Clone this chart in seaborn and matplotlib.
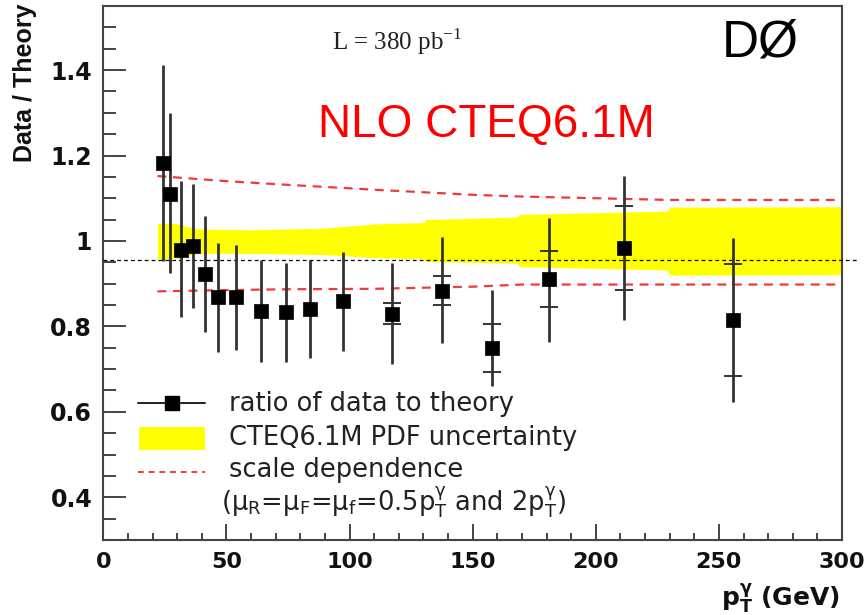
import numpy as np
import pandas as pd
import matplotlib
matplotlib.use("Agg")
import matplotlib.pyplot as plt
from matplotlib.lines import Line2D
from matplotlib.patches import Rectangle
import seaborn as sns

# Photon pT bin centres (GeV) and measured data/theory ratio
pt = [24.1, 27.1, 31.6, 36.3, 41.1, 46.7, 53.7, 64.0, 74.1, 84.0, 97.3,
      117.3, 137.7, 157.8, 181.0, 211.3, 255.9]
ratio = [1.182, 1.110, 0.980, 0.989, 0.923, 0.868, 0.868, 0.837, 0.833, 0.840, 0.859,
         0.830, 0.884, 0.750, 0.911, 0.984, 0.815]
# total uncertainty (up / down)
err_up = [0.230, 0.189, 0.161, 0.145, 0.136, 0.128, 0.123, 0.119, 0.116, 0.115, 0.114,
          0.119, 0.125, 0.136, 0.143, 0.167, 0.193]
err_dn = [0.230, 0.186, 0.157, 0.147, 0.136, 0.128, 0.124, 0.120, 0.116, 0.115, 0.117,
          0.119, 0.124, 0.090, 0.148, 0.170, 0.193]
# statistical part (only visible outside the marker at high pT)
err_stat = [np.nan] * 11 + [0.024, 0.035, 0.056, 0.065, 0.098, 0.132]

# CTEQ6.1M PDF uncertainty band
pdf_pt = [22, 30, 38, 60, 90, 110, 130, 131, 168, 169, 229, 230, 300]
pdf_hi = [1.042, 1.040, 1.028, 1.026, 1.030, 1.040, 1.043, 1.050, 1.056, 1.062, 1.070, 1.079, 1.080]
pdf_lo = [0.958, 0.960, 0.971, 0.971, 0.968, 0.961, 0.958, 0.952, 0.948, 0.940, 0.932, 0.920, 0.921]

# scale dependence (0.5 pT and 2 pT)
scale_pt = [22, 50, 76, 110, 150, 170, 230, 300]
scale_hi = [1.152, 1.140, 1.131, 1.120, 1.108, 1.104, 1.096, 1.096]
scale_lo = [0.882, 0.885, 0.887, 0.888, 0.893, 0.898, 0.898, 0.898]

ref_line = 0.955

yticks = [0.4, 0.6, 0.8, 1.0, 1.2, 1.4]
xticks = [0, 50, 100, 150, 200, 250, 300]

sns.set_theme(style="ticks")
plt.rcParams["font.family"] = ["DejaVu Sans"]
plt.rcParams["mathtext.fontset"] = "dejavusans"

fig = plt.figure(figsize=(8.64, 6.15), dpi=100)
ax = fig.add_axes([103.3 / 864, 1 - 540 / 615, (842 - 103.3) / 864, (540 - 6) / 615])

df = pd.DataFrame({"pt": pt, "ratio": ratio})
pdf = pd.DataFrame({"pt": pdf_pt, "hi": pdf_hi, "lo": pdf_lo})
scl = pd.DataFrame({"pt": scale_pt, "hi": scale_hi, "lo": scale_lo})

yellow = "#ffff00"
red = "#f03a3a"
bar_col = "#333333"

ax.fill_between(pdf["pt"], pdf["lo"], pdf["hi"], color=yellow, lw=0, zorder=1)

for col in ["hi", "lo"]:
    sns.lineplot(data=scl, x="pt", y=col, ax=ax, color=red, lw=1.6,
                 estimator=None, sort=False, zorder=2)
for ln in ax.lines:
    ln.set_dashes([4, 3])

ax.axhline(ref_line, xmin=0, xmax=1.02, color="black", lw=0.9,
           dashes=(3, 2.5), clip_on=False, zorder=3)

ax.errorbar(pt, ratio, yerr=[err_dn, err_up], fmt="none", ecolor=bar_col,
            elinewidth=2.0, capsize=0, zorder=4)
stat = np.array(err_stat)
m = ~np.isnan(stat)
ax.errorbar(np.array(pt)[m], np.array(ratio)[m], yerr=stat[m], fmt="none",
            ecolor=bar_col, elinewidth=0, capsize=6.5, capthick=1.4, zorder=4)

sns.scatterplot(data=df, x="pt", y="ratio", ax=ax, marker="s", s=110,
                color="black", edgecolor="black", linewidth=0.5, zorder=5)

ax.set_xlim(0, 300)
ax.set_ylim(0.3, 1.55)
ax.set_xlabel("")
ax.set_ylabel("")

ax.set_xticks(xticks)
ax.set_xticks(np.arange(0, 301, 10), minor=True)
ax.set_yticks(yticks)
ax.set_yticks(np.arange(0.3, 1.56, 0.05), minor=True)
ax.set_xticklabels([f"{v:g}" for v in xticks])
ax.set_yticklabels([f"{v:g}" for v in yticks])

ax.tick_params(axis="y", which="major", direction="in", length=16.5, width=1.4,
               labelsize=17, pad=8, color="#444444", right=False)
ax.tick_params(axis="y", which="minor", direction="in", length=9, width=1.4,
               color="#444444", right=False)
ax.tick_params(axis="x", which="major", direction="in", length=11.5, width=1.4,
               labelsize=16, pad=9, color="#444444", top=False)
ax.tick_params(axis="x", which="minor", direction="in", length=5, width=1.4,
               color="#444444", top=False)
for lab in ax.get_xticklabels() + ax.get_yticklabels():
    lab.set_fontweight("bold")
    lab.set_color("#111111")

for sp in ax.spines.values():
    sp.set_visible(True)
    sp.set_color("#444444")
    sp.set_linewidth(1.5)

# axis titles
fig.text(25 / 864, 1 - 4 / 615, "Data / Theory", rotation=90, ha="center", va="top",
         fontsize=18, fontweight="bold", family="Liberation Sans", color="#111111")
fig.text(840 / 864, 1 - 598 / 615,
         r"$\mathbf{p}_{\mathbf{T}}^{\mathbf{\gamma}}$ (GeV)",
         ha="right", va="center", fontsize=18, fontweight="bold", color="#111111")

# annotations
ax.text(0.519, 0.777, "NLO CTEQ6.1M", transform=ax.transAxes, ha="center", va="center",
        fontsize=33, color="#ff0000", family="Liberation Sans")
ax.text(0.398, 0.934, r"L = 380 pb$^{\mathregular{-1}}$", transform=ax.transAxes,
        ha="center", va="center", fontsize=18, color="#222222", family="Liberation Serif")
ax.text(0.89, 0.93, "DØ", transform=ax.transAxes, ha="center", va="center",
        fontsize=37, color="black", family="Liberation Sans")

# legend
tr = ax.transAxes
ax.add_line(Line2D([0.047, 0.1375], [0.2566, 0.2566], transform=tr, color="#222222",
                   lw=1.4))
ax.add_line(Line2D([0.093], [0.2566], transform=tr, marker="s", markersize=10,
                   color="black", lw=0))
ax.add_patch(Rectangle((0.0483, 0.1685), 0.0892, 0.0431, transform=tr,
                       facecolor=yellow, edgecolor="none"))
ax.add_line(Line2D([0.047, 0.1375], [0.1273, 0.1273], transform=tr, color=red,
                   lw=1.4, dashes=(3, 2.5)))
leg_fs = 18.5
ax.text(0.170, 0.2545, "ratio of data to theory", transform=tr, ha="left", va="center",
        fontsize=leg_fs, color="#222222")
ax.text(0.170, 0.1915, "CTEQ6.1M PDF uncertainty", transform=tr, ha="left", va="center",
        fontsize=leg_fs, color="#222222")
ax.text(0.170, 0.1315, "scale dependence", transform=tr, ha="left", va="center",
        fontsize=leg_fs, color="#222222")
ax.text(0.160, 0.072,
        r"(μ$_\mathregular{R}$=μ$_\mathregular{F}$=μ$_\mathregular{f}$=0.5p$_\mathregular{T}^\mathregular{\gamma}$"
        r" and 2p$_\mathregular{T}^\mathregular{\gamma}$)",
        transform=tr, ha="left", va="center", fontsize=leg_fs, color="#222222")

fig.savefig("out.png", dpi=100, facecolor="white")
